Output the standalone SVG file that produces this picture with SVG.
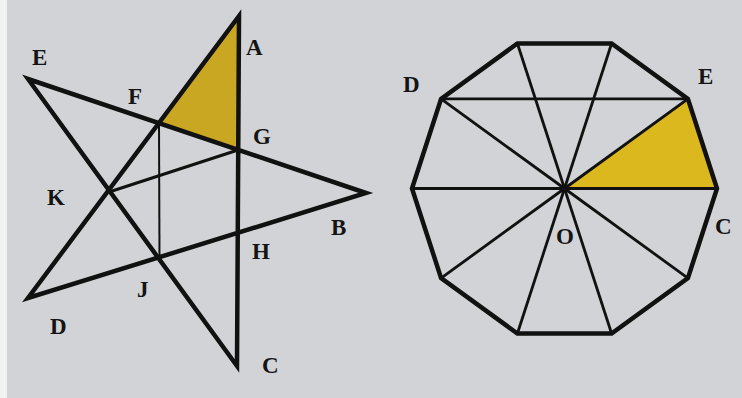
<svg xmlns="http://www.w3.org/2000/svg" width="742" height="398" viewBox="0 0 742 398">
<style>
.lbl{font-family:"Liberation Serif","Times New Roman",serif;font-size:23px;font-weight:bold;fill:#141414}
.thick{fill:none;stroke:#111;stroke-width:4.5;stroke-linejoin:miter}
.mid{fill:none;stroke:#111;stroke-width:3}
.thin{fill:none;stroke:#111;stroke-width:2}
.spoke{fill:none;stroke:#111;stroke-width:2.8}
</style>
<rect x="0" y="0" width="742" height="398" fill="#d2d3d6"/>
<rect x="0" y="0" width="7" height="398" fill="#f2f2f2"/>
<g id="star">
  <polygon points="239,16 159,123 238,150" fill="#c9a722"/>
  <g id="star-inner">
    <line class="thin" x1="159" y1="123" x2="159.5" y2="257"/>
    <line class="mid" x1="109" y1="192" x2="238" y2="150"/>
  </g>
  <path class="thick" d="M28,79 L366,193 L28,298 L239,16 L237,366 Z"/>
</g>
<g id="decagon">
  <polygon points="564.5,188.5 687.9,98.9 717,188.5" fill="#dcb81f"/>
  <g id="spokes">
    <line class="spoke" x1="412" y1="188.5" x2="717" y2="188.5"/>
    <line class="spoke" x1="441.1" y1="98.9" x2="687.9" y2="98.9"/>
    <line class="spoke" x1="564.5" y1="188.5" x2="687.9" y2="98.9"/>
    <line class="spoke" x1="564.5" y1="188.5" x2="611.6" y2="43.5"/>
    <line class="spoke" x1="564.5" y1="188.5" x2="517.4" y2="43.5"/>
    <line class="spoke" x1="564.5" y1="188.5" x2="441.1" y2="98.9"/>
    <line class="spoke" x1="564.5" y1="188.5" x2="441.1" y2="278.1"/>
    <line class="spoke" x1="564.5" y1="188.5" x2="517.4" y2="333.5"/>
    <line class="spoke" x1="564.5" y1="188.5" x2="611.6" y2="333.5"/>
    <line class="spoke" x1="564.5" y1="188.5" x2="687.9" y2="278.1"/>
  </g>
  <polygon class="thick" points="717,188.5 687.9,98.9 611.6,43.5 517.4,43.5 441.1,98.9 412,188.5 441.1,278.1 517.4,333.5 611.6,333.5 687.9,278.1"/>
  <circle cx="564.5" cy="188.5" r="3" fill="#111"/>
</g>
<g id="labels">
  <text class="lbl" x="32" y="65">E</text>
  <text class="lbl" x="246" y="55">A</text>
  <text class="lbl" x="128" y="104">F</text>
  <text class="lbl" x="253" y="144">G</text>
  <text class="lbl" x="47" y="205">K</text>
  <text class="lbl" x="331" y="235">B</text>
  <text class="lbl" x="252" y="259">H</text>
  <text class="lbl" x="137" y="297">J</text>
  <text class="lbl" x="50" y="334">D</text>
  <text class="lbl" x="262" y="373">C</text>
  <text class="lbl" x="403" y="92">D</text>
  <text class="lbl" x="698" y="84">E</text>
  <text class="lbl" x="715" y="234">C</text>
  <text class="lbl" x="556" y="244">O</text>
</g>
</svg>
